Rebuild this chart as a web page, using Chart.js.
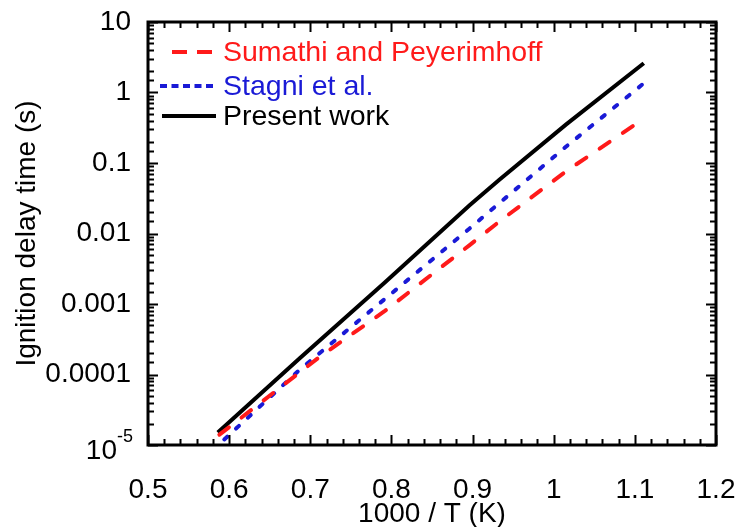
<!DOCTYPE html>
<html>
<head>
<meta charset="utf-8">
<script src="https://cdn.jsdelivr.net/npm/chart.js@4/dist/chart.umd.min.js"></script>
<style>
  html, body { margin: 0; padding: 0; background: #fff; }
  #wrap { width: 739px; height: 527px; position: relative; }
</style>
</head>
<body>
<div id="wrap"><canvas id="c"></canvas></div>
<script>
// values (x = 1000/T, y = ignition delay in s)
const sumathiX = [0.588, 0.7116, 0.7915, 0.896, 0.933, 1.015, 1.113];
const sumathiY = [1.4e-5, 1.78e-4, 7.9e-4, 6.8e-3, 0.0148, 0.076, 0.44];

const stagniX = [0.594, 0.687, 0.7915, 0.896, 0.933, 1.015, 1.111];
const stagniY = [1.2e-5, 1.17e-4, 1.17e-3, 0.0117, 0.027, 0.17, 1.35];

const presentX = [0.586, 0.687, 0.7915, 0.896, 0.933, 1.015, 1.111];
const presentY = [1.5e-5, 1.7e-4, 2.0e-3, 0.025, 0.058, 0.35, 2.6];

const seriesNames = ['Sumathi and Peyerimhoff', 'Stagni et al.', 'Present work'];
const seriesColors = ['#ff1a1a', '#1a1ad6', '#000000'];

const xMin = 0.5, xMax = 1.2, xStep = 0.02;
const yMin = 1e-5, yMax = 10;

const FONT = '"Liberation Sans", Arial, sans-serif';

function pts(xs, ys) {
    return xs.map((x, i) => ({ x: x, y: ys[i] }));
}

function isDecade(v) {
    const l = Math.log10(v);
    return Math.abs(l - Math.round(l)) < 1e-6;
}

function isTenth(v) {
    return Math.abs(v * 10 - Math.round(v * 10)) < 1e-6;
}

// inward ticks on all four sides + frame
const frameTicks = {
    id: 'frameTicks',
    afterDraw(chart) {
        const ctx = chart.ctx;
        const a = chart.chartArea;
        const xs = chart.scales.x, ys = chart.scales.y;
        ctx.save();
        ctx.strokeStyle = '#000';
        ctx.lineWidth = 2;
        ctx.beginPath();
        xs.ticks.forEach(t => {
            const px = Math.round(xs.getPixelForValue(t.value)) + 0.5;
            const len = isTenth(t.value) ? 10 : 6;
            ctx.moveTo(px, a.bottom); ctx.lineTo(px, a.bottom - len);
            ctx.moveTo(px, a.top); ctx.lineTo(px, a.top + len);
        });
        ys.ticks.forEach(t => {
            const py = Math.round(ys.getPixelForValue(t.value)) + 0.5;
            const len = isDecade(t.value) ? 10 : 6;
            ctx.moveTo(a.left, py); ctx.lineTo(a.left + len, py);
            ctx.moveTo(a.right, py); ctx.lineTo(a.right - len, py);
        });
        ctx.stroke();
        ctx.lineWidth = 3;
        ctx.strokeRect(a.left, a.top, a.right - a.left, a.bottom - a.top);

        // 10^-5 label
        const py = ys.getPixelForValue(yMin);
        ctx.fillStyle = '#000';
        ctx.textBaseline = 'middle';
        ctx.textAlign = 'right';
        ctx.font = '28px ' + FONT;
        ctx.fillText('10', 117, py + 6);
        ctx.textAlign = 'left';
        ctx.font = '18px ' + FONT;
        ctx.fillText('-5', 117, py - 8);
        ctx.restore();
    }
};

// legend inside the plot, top left
const insideLegend = {
    id: 'insideLegend',
    afterDraw(chart) {
        const ctx = chart.ctx;
        const rows = [52, 86, 116];
        const lineStart = [172, 160, 162];
        const dashes = [[15, 10], [7, 4.5], []];
        ctx.save();
        ctx.font = '28.5px ' + FONT;
        ctx.textBaseline = 'middle';
        ctx.textAlign = 'left';
        seriesNames.forEach((name, i) => {
            ctx.strokeStyle = seriesColors[i];
            ctx.lineWidth = 4;
            ctx.setLineDash(dashes[i]);
            ctx.beginPath();
            ctx.moveTo(lineStart[i], rows[i]);
            ctx.lineTo(216, rows[i]);
            ctx.stroke();
            ctx.setLineDash([]);
            ctx.fillStyle = seriesColors[i];
            ctx.fillText(name, 223, rows[i] + 1);
        });
        ctx.restore();
    }
};

new Chart(document.getElementById('c'), {
    type: 'scatter',
    data: {
        datasets: [
            {
                label: seriesNames[0],
                data: pts(sumathiX, sumathiY),
                borderColor: seriesColors[0],
                borderWidth: 4,
                borderDash: [12, 16],
                borderCapStyle: 'round',
                showLine: true,
                pointRadius: 0
            },
            {
                label: seriesNames[1],
                data: pts(stagniX, stagniY),
                borderColor: seriesColors[1],
                borderWidth: 4,
                borderDash: [4, 12],
                borderCapStyle: 'round',
                showLine: true,
                pointRadius: 0
            },
            {
                label: seriesNames[2],
                data: pts(presentX, presentY),
                borderColor: seriesColors[2],
                borderWidth: 4,
                showLine: true,
                pointRadius: 0
            }
        ]
    },
    options: {
        responsive: true,
        maintainAspectRatio: false,
        animation: false,
        layout: { padding: { top: 22, right: 23, left: 0, bottom: 0 } },
        plugins: {
            legend: { display: false },
            tooltip: { enabled: false }
        },
        scales: {
            x: {
                type: 'linear',
                min: xMin,
                max: xMax,
                grid: { display: false, drawTicks: false },
                border: { display: false },
                afterFit: s => {
                    s.height = 82;
                    s.paddingLeft = 0;
                    s.paddingRight = 0;
                },
                ticks: {
                    stepSize: xStep,
                    autoSkip: false,
                    maxRotation: 0,
                    padding: 28,
                    color: '#000',
                    font: { family: FONT, size: 28 },
                    callback: v => isTenth(v) ? String(Number(v.toFixed(2))) : ''
                },
                title: {
                    display: true,
                    text: '1000 / T (K)',
                    color: '#000',
                    font: { family: FONT, size: 28, lineHeight: 0.9 },
                    padding: { top: 0, bottom: 0 }
                }
            },
            y: {
                type: 'logarithmic',
                min: yMin,
                max: yMax,
                grid: { display: false, drawTicks: false },
                border: { display: false },
                afterFit: s => {
                    s.width = 148;
                    s.paddingTop = 0;
                    s.paddingBottom = 0;
                },
                ticks: {
                    autoSkip: false,
                    padding: 17,
                    color: '#000',
                    font: { family: FONT, size: 28 },
                    callback: v => {
                        if (!isDecade(v) || v < 2e-5) return '';
                        return v >= 1 ? String(Math.round(v)) : String(Number(v.toPrecision(1)));
                    }
                },
                title: {
                    display: true,
                    text: 'Ignition delay time (s)',
                    color: '#000',
                    font: { family: FONT, size: 28 },
                    padding: { top: 10, bottom: 0 }
                }
            }
        }
    },
    plugins: [frameTicks, insideLegend]
});
</script>
</body>
</html>
